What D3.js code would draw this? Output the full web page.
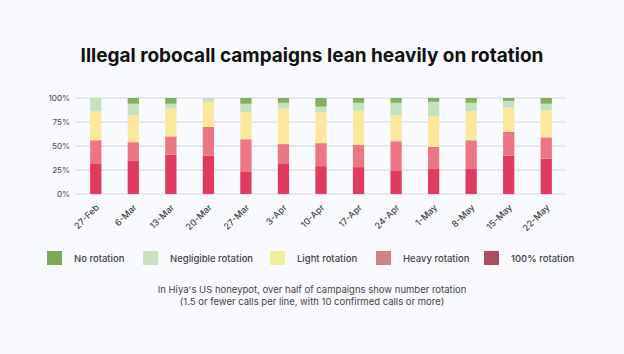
<!DOCTYPE html>
<html lang="en">
<head>
<meta charset="UTF-8">
<title>Illegal robocall campaigns</title>
<script src="https://cdn.jsdelivr.net/npm/d3@7"></script>
<style>
  body { margin: 0; background: #f9fafd; }
  svg { display: block; font-family: Inter, "Open Sans", sans-serif; }
</style>
</head>
<body>
<svg width="624" height="354"></svg>
<script>
// weeks along the x axis
var weeks = ['27-Feb','6-Mar','13-Mar','20-Mar','27-Mar','3-Apr','10-Apr','17-Apr','24-Apr','1-May','8-May','15-May','22-May'];
// share of campaigns (%), bottom of the stack first
var full     = [32, 35, 41, 40, 23, 32, 29, 28, 24, 26, 26, 40, 37];
var heavy    = [24, 19, 19, 30, 34, 20, 24, 23, 31, 23, 30, 25, 22];
var light    = [30, 28, 29, 26, 28, 37, 32, 36, 27, 32, 30, 25, 28];
var minor    = [14, 12,  5,  4,  9,  6,  6,  8, 13, 15,  9,  7,  7];
var none     = [ 0,  6,  6,  0,  6,  5,  9,  5,  5,  4,  5,  3,  6];
var seriesNames = ['100% rotation','Heavy rotation','Light rotation','Negligible rotation','No rotation'];
var legendOrder = ['No rotation','Negligible rotation','Light rotation','Heavy rotation','100% rotation'];
var yTicks = [0, 25, 50, 75, 100];

var barColors = {'100% rotation':'#de3a62','Heavy rotation':'#ec7683','Light rotation':'#fce89c','Negligible rotation':'#c3e2bd','No rotation':'#84ad5e'};
var swatchColors = {'100% rotation':'#a9505f','Heavy rotation':'#cc8486','Light rotation':'#f3ee9e','Negligible rotation':'#c8e2bd','No rotation':'#7aa95a'};

var rows = weeks.map(function(w, i) {
  return {week: w, '100% rotation': full[i], 'Heavy rotation': heavy[i], 'Light rotation': light[i],
          'Negligible rotation': minor[i], 'No rotation': none[i]};
});

var svg = d3.select('svg');

var x = d3.scaleBand().domain(weeks).range([77, 565]).paddingInner(0.7).paddingOuter(0.35);
var y = d3.scaleLinear().domain([0, 100]).range([194, 98]);

svg.append('text')
  .attr('x', 312).attr('y', 62)
  .attr('text-anchor', 'middle')
  .attr('font-size', 19).attr('font-weight', 700).attr('fill', '#111')
  .text('Illegal robocall campaigns lean heavily on rotation');

// gridlines + y labels
svg.append('g').selectAll('line').data(yTicks).join('line')
  .attr('x1', 75).attr('x2', 566)
  .attr('y1', function(d) { return y(d); }).attr('y2', function(d) { return y(d); })
  .attr('stroke', '#d6d6dc').attr('stroke-width', 1);

svg.append('g').selectAll('text').data(yTicks).join('text')
  .attr('x', 70).attr('y', function(d) { return y(d) + 3; })
  .attr('text-anchor', 'end')
  .attr('font-size', 8).attr('font-weight', 500).attr('fill', '#555')
  .text(function(d) { return d + '%'; });

var stack = d3.stack().keys(seriesNames)(rows);

svg.append('g').selectAll('g').data(stack).join('g')
  .attr('fill', function(s) { return barColors[s.key]; })
  .selectAll('rect').data(function(s) { return s; }).join('rect')
  .attr('x', function(d) { return x(d.data.week); })
  .attr('width', x.bandwidth())
  .attr('y', function(d) { return y(d[1]); })
  .attr('height', function(d) { return y(d[0]) - y(d[1]); });

// x labels
svg.append('g').selectAll('text').data(weeks).join('text')
  .attr('transform', function(d) { return 'translate(' + (x(d) + x.bandwidth() / 2 + 4) + ',208) rotate(-45)'; })
  .attr('text-anchor', 'end')
  .attr('font-size', 9).attr('font-weight', 500).attr('fill', '#444')
  .text(function(d) { return d; });

// legend
var legendX = [47, 143, 270, 376, 484];
var leg = svg.append('g').selectAll('g').data(legendOrder).join('g')
  .attr('transform', function(d, i) { return 'translate(' + legendX[i] + ',251)'; });
leg.append('rect').attr('width', 15).attr('height', 14)
  .attr('fill', function(d) { return swatchColors[d]; });
leg.append('text').attr('x', 27).attr('y', 11)
  .attr('font-size', 9.5).attr('font-weight', 500).attr('fill', '#444')
  .text(function(d) { return d; });

svg.append('text')
  .attr('x', 312).attr('y', 293)
  .attr('text-anchor', 'middle').attr('font-size', 9.5).attr('fill', '#444')
  .text("In Hiya's US honeypot, over half of campaigns show number rotation");
svg.append('text')
  .attr('x', 312).attr('y', 305)
  .attr('text-anchor', 'middle').attr('font-size', 9.5).attr('fill', '#444')
  .text('(1.5 or fewer calls per line, with 10 confirmed calls or more)');
</script>
</body>
</html>
